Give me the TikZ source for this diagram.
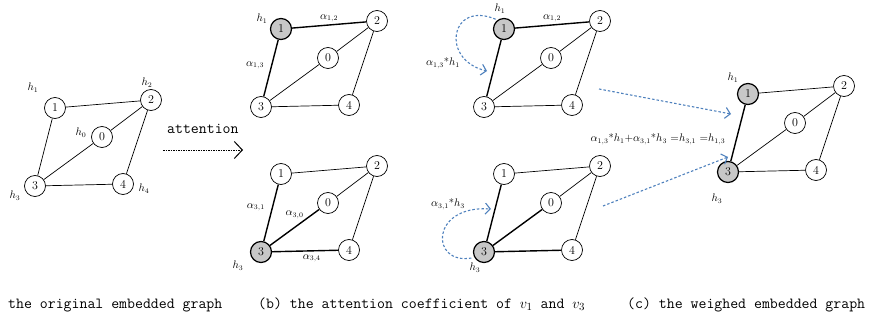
\documentclass[tikz,border=0pt]{standalone}
\usepackage{amsmath}
\usetikzlibrary{
    arrows.meta,
    calc
}
\definecolor{attnblue}{RGB}{79,129,189}
\tikzset{
    % --- Graph vertex (numbered circle) ---
    vertex/.style = {
        circle, draw, line width=0.7pt, fill=white,
        minimum size=21pt, inner sep=0pt,
        font=\fontsize{12}{12}\selectfont
    },
    % --- Vertex whose attention is computed (grey) ---
    focus vertex/.style = {
        vertex, fill=black!22, line width=1.2pt
    },
    % --- Plain edge ---
    link/.style = {
        line width=0.7pt
    },
    % --- Edge carrying an attention coefficient ---
    strong link/.style = {
        line width=1.4pt
    },
    % --- Math label (h_i, alpha_ij) ---
    lbl/.style = {
        font=\fontsize{10.5}{12}\selectfont, inner sep=1pt
    },
    % --- Typewriter words (attention, captions) ---
    word/.style = {
        font=\fontsize{15.4}{18}\selectfont\ttfamily,
        inner sep=0pt, anchor=base west
    },
    % --- Black dotted arrow between panels ---
    step arrow/.style = {
        line width=0.8pt, dash pattern=on 1.5pt off 1pt,
        -{Straight Barb[length=8pt, width=17pt, line width=1pt]}
    },
    % --- Blue dashed weighting arrow ---
    attn arrow/.style = {
        draw=attnblue, line width=1.1pt, dash pattern=on 2.5pt off 2pt,
        -{Straight Barb[length=5pt, width=11pt, line width=1.1pt]}
    }
}

\begin{document}
\begin{tikzpicture}[x=1pt, y=-1pt]

\useasboundingbox (0,0) rectangle (870,323);

% ---------------------------------------------------------
% (a) original embedded graph
% ---------------------------------------------------------
\node[vertex] (a1) at (55,108) {1};
\node[vertex] (a2) at (151,100) {2};
\node[vertex] (a0) at (102,137) {0};
\node[vertex] (a3) at (35,186) {3};
\node[vertex] (a4) at (123,184) {4};

\draw[link] (a1) -- (a2) (a1) -- (a3) (a0) -- (a2)
    (a3) -- (a0) (a2) -- (a4) (a3) -- (a4);

\node[lbl] (ah1) at ($(a1)+(-22,-20)$) {$h_1$};
\node[lbl] (ah2) at ($(a2)+(-4,-17)$) {$h_2$};
\node[lbl] (ah0) at ($(a0)+(-21,-4)$) {$h_0$};
\node[lbl] (ah3) at ($(a3)+(-20,10)$) {$h_3$};
\node[lbl] (ah4) at ($(a4)+(21,5)$) {$h_4$};

% ---------------------------------------------------------
% attention step
% ---------------------------------------------------------
\node[word] (attn) at (167,134) {attention};
\coordinate (attS) at (163,150);
\coordinate (attE) at (243,150);
\draw[step arrow] (attS) -- (attE);

% ---------------------------------------------------------
% (b) attention coefficients of v1 (top)
% ---------------------------------------------------------
\node[focus vertex] (bt1) at (281,29) {1};
\node[vertex] (bt2) at (377,21) {2};
\node[vertex] (bt0) at (328,58) {0};
\node[vertex] (bt3) at (261,107) {3};
\node[vertex] (bt4) at (349,105) {4};

\draw[strong link] (bt1) -- node[lbl, above=1pt] {$\alpha_{1,2}$} (bt2);
\draw[strong link] (bt1) -- node[lbl, left=6pt, pos=0.45] {$\alpha_{1,3}$} (bt3);
\draw[link] (bt0) -- (bt2) (bt3) -- (bt0) (bt2) -- (bt4) (bt3) -- (bt4);

\node[lbl] (bth1) at ($(bt1)+(-19,-10)$) {$h_1$};

% ---------------------------------------------------------
% (b) attention coefficients of v3 (bottom)
% ---------------------------------------------------------
\node[vertex] (bb1) at (281,174) {1};
\node[vertex] (bb2) at (377,166) {2};
\node[vertex] (bb0) at (328,203) {0};
\node[focus vertex] (bb3) at (261,252) {3};
\node[vertex] (bb4) at (349,250) {4};

\draw[strong link] (bb3) -- node[lbl, left=6pt, pos=0.6] {$\alpha_{3,1}$} (bb1);
\draw[strong link] (bb3) -- node[lbl, above=7pt] {$\alpha_{3,0}$} (bb0);
\draw[strong link] (bb3) -- node[lbl, below=2pt, pos=0.6] {$\alpha_{3,4}$} (bb4);
\draw[link] (bb1) -- (bb2) (bb0) -- (bb2) (bb2) -- (bb4);

\node[lbl] (bbh3) at ($(bb3)+(-23,14)$) {$h_3$};

% ---------------------------------------------------------
% (c) weighting of v1 (top)
% ---------------------------------------------------------
\node[focus vertex] (ct1) at (504,29) {1};
\node[vertex] (ct2) at (600,21) {2};
\node[vertex] (ct0) at (551,58) {0};
\node[vertex] (ct3) at (484,107) {3};
\node[vertex] (ct4) at (572,105) {4};

\draw[strong link] (ct1) -- node[lbl, above=1pt] {$\alpha_{1,2}$} (ct2);
\draw[strong link] (ct1) -- (ct3);
\draw[link] (ct0) -- (ct2) (ct3) -- (ct0) (ct2) -- (ct4) (ct3) -- (ct4);

\node[lbl] (cth1) at ($(ct1)+(-4,-20)$) {$h_1$};
\node[lbl] (ctw) at (443,63) {$\alpha_{1,3}$*$h_1$};
\coordinate (ctTip) at (487,71);
\draw[attn arrow, shorten <=2pt] (ct1.126) .. controls (450,0) and (440,60) .. (ctTip);

% ---------------------------------------------------------
% (c) weighting of v3 (bottom)
% ---------------------------------------------------------
\node[vertex] (cb1) at (504,174) {1};
\node[vertex] (cb2) at (600,166) {2};
\node[vertex] (cb0) at (551,203) {0};
\node[focus vertex] (cb3) at (484,252) {3};
\node[vertex] (cb4) at (572,250) {4};

\draw[strong link] (cb3) -- (cb1) (cb3) -- (cb0) (cb3) -- (cb4);
\draw[link] (cb1) -- (cb2) (cb0) -- (cb2) (cb2) -- (cb4);

\node[lbl] (cbh3) at ($(cb3)+(-9,16)$) {$h_3$};
\node[lbl] (cbw) at (448,204) {$\alpha_{3,1}$*$h_3$};
\coordinate (cbTip) at (491,209);
\draw[attn arrow, shorten <=3pt] (cb3.210) .. controls (430,265) and (430,205) .. (cbTip);

% ---------------------------------------------------------
% (d) weighed embedded graph
% ---------------------------------------------------------
\node[focus vertex] (d1) at (748,94) {1};
\node[vertex] (d2) at (844,86) {2};
\node[vertex] (d0) at (795,123) {0};
\node[focus vertex] (d3) at (728,172) {3};
\node[vertex] (d4) at (816,170) {4};

\draw[strong link] (d1) -- (d3);
\draw[link] (d1) -- (d2) (d0) -- (d2) (d3) -- (d0) (d2) -- (d4) (d3) -- (d4);

\node[lbl] (dh1) at ($(d1)+(-15,-16)$) {$h_1$};
\node[lbl] (dh3) at ($(d3)+(-11,27)$) {$h_3$};
\node[lbl] (sum) at (658,139)
    {$\alpha_{1,3}$*$h_1{+}\alpha_{3,1}$*$h_3$ ${=}h_{3,1}$ ${=}h_{1,3}$};

% weighted messages -> (d)
\coordinate (ctOut) at (599,89);
\coordinate (dIn1) at (731,114);
\coordinate (cbOut) at (603,206);
\coordinate (dIn3) at (728,157);
\draw[attn arrow] (ctOut) -- (dIn1);
\draw[attn arrow] (cbOut) -- (dIn3);

% ---------------------------------------------------------
% Captions
% ---------------------------------------------------------
\node[word] (capA) at (8,308) {the original embedded graph};
\node[word] (capB) at (258,308) {(b) the attention coefficient of $v_1$ and $v_3$};
\node[word] (capC) at (627,308) {(c) the weighed embedded graph};

\end{tikzpicture}
\end{document}
